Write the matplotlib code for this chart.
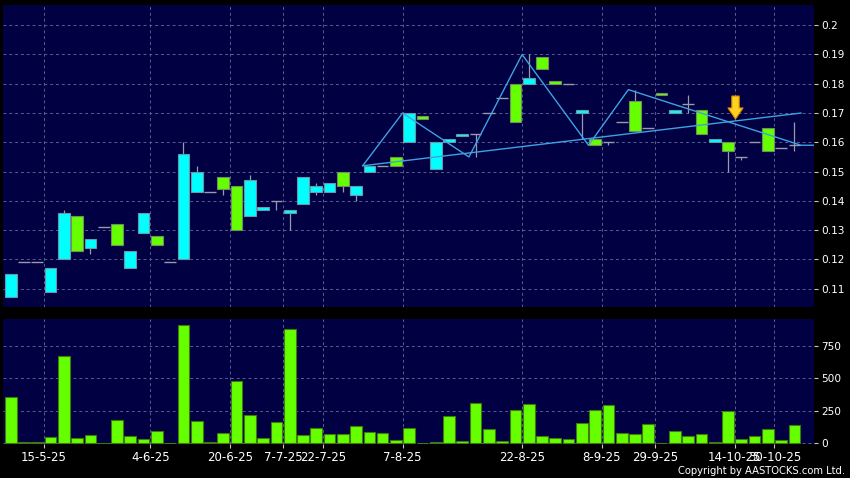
import matplotlib
matplotlib.use("Agg")
import matplotlib.pyplot as plt
import numpy as np
from matplotlib.path import Path

# daily OHLC (index = trading day)
opens = [0.107, 0.119, 0.119, 0.109, 0.120, 0.135, 0.124, 0.131, 0.132, 0.117,
         0.129, 0.128, 0.119, 0.120, 0.143, 0.143, 0.148, 0.145, 0.135, 0.137,
         0.140, 0.136, 0.139, 0.143, 0.143, 0.150, 0.142, 0.150, 0.152, 0.155,
         0.160, 0.169, 0.151, 0.160, 0.162, 0.163, 0.170, 0.175, 0.180, 0.180,
         0.189, 0.181, 0.180, 0.170, 0.161, 0.160, 0.167, 0.174, 0.165, 0.177,
         0.170, 0.173, 0.171, 0.160, 0.160, 0.155, 0.160, 0.165, 0.158, 0.159]
closes = [0.115, 0.119, 0.119, 0.117, 0.136, 0.123, 0.127, 0.131, 0.125, 0.123,
          0.136, 0.125, 0.119, 0.156, 0.150, 0.143, 0.144, 0.130, 0.147, 0.138,
          0.140, 0.137, 0.148, 0.145, 0.146, 0.145, 0.145, 0.152, 0.152, 0.152,
          0.170, 0.168, 0.160, 0.161, 0.163, 0.163, 0.170, 0.175, 0.167, 0.182,
          0.185, 0.180, 0.180, 0.171, 0.159, 0.160, 0.167, 0.164, 0.165, 0.176,
          0.171, 0.173, 0.163, 0.161, 0.157, 0.155, 0.160, 0.157, 0.158, 0.159]
highs = [0.115, 0.119, 0.119, 0.117, 0.137, 0.135, 0.127, 0.131, 0.132, 0.123,
         0.136, 0.128, 0.119, 0.160, 0.152, 0.143, 0.148, 0.145, 0.149, 0.138,
         0.140, 0.137, 0.148, 0.146, 0.146, 0.150, 0.145, 0.152, 0.152, 0.155,
         0.170, 0.169, 0.160, 0.161, 0.163, 0.163, 0.170, 0.175, 0.180, 0.190,
         0.189, 0.181, 0.180, 0.171, 0.161, 0.160, 0.167, 0.178, 0.165, 0.177,
         0.171, 0.176, 0.171, 0.161, 0.160, 0.155, 0.160, 0.165, 0.158, 0.167]
lows = [0.107, 0.119, 0.119, 0.109, 0.120, 0.123, 0.122, 0.131, 0.125, 0.117,
        0.129, 0.125, 0.119, 0.120, 0.143, 0.143, 0.142, 0.130, 0.135, 0.137,
        0.137, 0.130, 0.139, 0.142, 0.143, 0.143, 0.140, 0.150, 0.152, 0.152,
        0.160, 0.168, 0.151, 0.160, 0.162, 0.155, 0.170, 0.175, 0.167, 0.180,
        0.185, 0.180, 0.180, 0.161, 0.159, 0.159, 0.167, 0.164, 0.165, 0.176,
        0.170, 0.170, 0.163, 0.160, 0.150, 0.154, 0.160, 0.157, 0.158, 0.157]
volumes = [355, 10, 8, 51, 671, 39, 67, 0, 180, 59, 33, 95, 2, 912, 175, 10, 80, 480,
           216, 41, 167, 881, 64, 118, 72, 75, 134, 87, 80, 23, 118, 2, 8, 211, 20,
           308, 108, 20, 254, 303, 57, 39, 31, 157, 257, 298, 82, 69, 146, 5, 92, 54,
           75, 10, 249, 31, 59, 110, 23, 141]

# date labels and the trading-day index they sit on
date_labels = ["15-5-25", "4-6-25", "20-6-25", "7-7-25", "22-7-25", "7-8-25",
               "22-8-25", "8-9-25", "29-9-25", "14-10-25", "30-10-25"]
date_idx = [3, 11, 17, 21, 24, 30, 39, 45, 49, 55, 58]

price_ticks = [0.11, 0.12, 0.13, 0.14, 0.15, 0.16, 0.17, 0.18, 0.19, 0.2]
vol_ticks = [0, 250, 500, 750]

# drawn pattern lines (bar-edge index, price)
zigzag_x = [26.5, 29.5, 34.5, 38.5, 43.5, 46.5, 59.5, 60.5]
zigzag_y = [0.152, 0.170, 0.155, 0.190, 0.159, 0.178, 0.159, 0.159]
trend_x = [26.5, 59.5]
trend_y = [0.152, 0.170]
signal_idx = 54.5
signal_price = 0.1722

BG = "#000042"
CYAN = "#00ffff"
GREEN = "#66ff00"
GRID = "#5b5b96"

o = np.array(opens); c = np.array(closes)
h = np.array(highs); l = np.array(lows)
x = np.arange(len(o))
w = 0.88

fig = plt.figure(figsize=(8.5, 4.78), dpi=100, facecolor="black")
ax = fig.add_axes([0.0039, 0.3584, 0.9541, 0.6311], facecolor=BG)
axv = fig.add_axes([0.0039, 0.0711, 0.9541, 0.2609], facecolor=BG)

# price panel
ax.vlines(x, l, h, color="#9a9aac", lw=0.9, zorder=2)
flat = o == c
up = (c > o)
down = (c < o)
bot = np.minimum(o, c)
hgt = np.maximum(np.abs(c - o), 0.0004)
ax.bar(x[up], hgt[up], w, bot[up], color=CYAN, edgecolor="#6a98a8", lw=0.8, zorder=3)
ax.bar(x[down], hgt[down], w, bot[down], color=GREEN, edgecolor="#6f8f60", lw=0.8, zorder=3)
ax.hlines(o[flat], x[flat] - w / 2, x[flat] + w / 2, color="#9a9aac", lw=1.0, zorder=3)

ax.plot(zigzag_x, zigzag_y, color="#3ea2e2", lw=1.0, zorder=4)
ax.plot(trend_x, trend_y, color="#3ea2e2", lw=1.0, zorder=4)

arrow = Path([(-0.16, 0.5), (0.16, 0.5), (0.16, -0.02), (0.33, -0.02), (0, -0.5),
              (-0.33, -0.02), (-0.16, -0.02), (-0.16, 0.5)],
             [Path.MOVETO] + [Path.LINETO] * 6 + [Path.CLOSEPOLY])
ax.plot([signal_idx], [signal_price], marker=arrow, ms=16.5, mfc="#ffd21f",
        mec="#e08a00", mew=0.8, zorder=5)

ax.set_xlim(-0.56, 60.5)
ax.set_ylim(0.10386, 0.2069)

# volume panel
axv.bar(x, volumes, w, color=GREEN, edgecolor="#3d7a10", lw=0.8, zorder=3)
axv.set_xlim(-0.56, 60.5)
axv.set_ylim(-5, 955)

grid_x = np.array(date_idx) - 0.5
for a, yt in ((ax, price_ticks), (axv, vol_ticks)):
    for s in a.spines.values():
        s.set_visible(False)
    a.set_yticks(yt)
    a.yaxis.tick_right()
    a.tick_params(axis="y", colors="#c8c8c8", labelcolor="white", length=3,
                  width=0.8, pad=2, labelsize=7.6)
    for gx in grid_x:
        a.axvline(gx, color=GRID, lw=0.7, ls=(0, (3, 3)), zorder=1)
    for gy in yt:
        a.axhline(gy, color=GRID, lw=0.7, ls=(0, (3, 3)), zorder=1)

ax.set_yticklabels([f"{v:g}" for v in price_ticks])
ax.set_xticks([])
axv.set_xticks(grid_x)
axv.set_xticklabels(date_labels)
axv.tick_params(axis="x", colors="#c8c8c8", labelcolor="white", length=3,
                width=0.8, pad=2, labelsize=8.5)

fig.text(0.994, 0.004, "Copyright by AASTOCKS.com Ltd.", color="white",
         fontsize=7.2, ha="right", va="bottom")

fig.savefig("out.png", dpi=100, facecolor="black")
